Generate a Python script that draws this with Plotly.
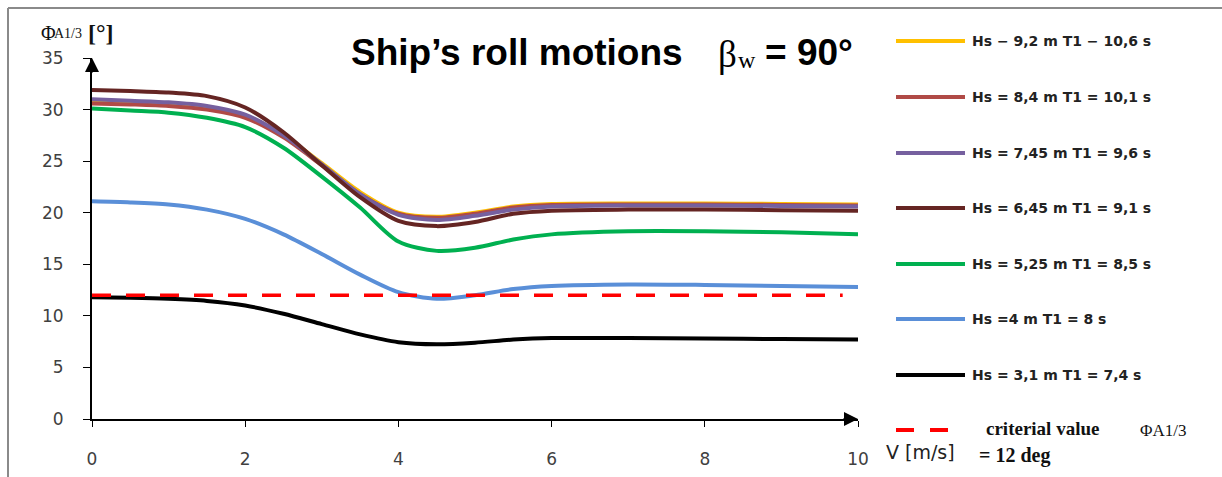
import plotly.graph_objects as go

# ---------------- data ----------------
speed = [0, 0.5, 1, 1.5, 2, 2.5, 3, 3.5, 4, 4.5, 5, 5.5, 6, 7, 8, 9, 10]

hs92 = [30.9, 30.75, 30.6, 30.25, 29.4, 27.5, 24.8, 22.0, 20.0, 19.6, 20.0, 20.6, 20.85, 20.9, 20.9, 20.85, 20.8]
hs84 = [30.6, 30.5, 30.35, 30.0, 29.2, 27.3, 24.6, 21.8, 19.9, 19.5, 19.9, 20.5, 20.75, 20.8, 20.8, 20.75, 20.7]
hs745 = [31.0, 30.85, 30.7, 30.35, 29.5, 27.5, 24.7, 21.8, 19.8, 19.3, 19.7, 20.3, 20.6, 20.7, 20.7, 20.65, 20.6]
hs645 = [31.9, 31.8, 31.65, 31.3, 30.2, 27.8, 24.6, 21.5, 19.2, 18.7, 19.1, 19.9, 20.2, 20.3, 20.3, 20.25, 20.2]
hs525 = [30.1, 29.9, 29.7, 29.2, 28.3, 26.3, 23.5, 20.5, 17.2, 16.3, 16.6, 17.4, 17.9, 18.2, 18.2, 18.1, 17.9]
hs4 = [21.1, 21.0, 20.8, 20.3, 19.4, 17.9, 16.0, 14.0, 12.3, 11.65, 12.0, 12.6, 12.9, 13.05, 13.0, 12.9, 12.8]
hs31 = [11.8, 11.75, 11.65, 11.45, 11.0, 10.2, 9.2, 8.2, 7.45, 7.25, 7.4, 7.7, 7.85, 7.85, 7.8, 7.75, 7.7]

crit_x = [0, 9.8]
crit_y = [12, 12]

series_names = [
    "Hs − 9,2 m T1 − 10,6 s",
    "Hs = 8,4 m T1 = 10,1 s",
    "Hs = 7,45 m T1 = 9,6 s",
    "Hs = 6,45 m T1 = 9,1 s",
    "Hs = 5,25 m T1 = 8,5 s",
    "Hs =4 m T1 = 8 s",
    "Hs = 3,1 m T1 = 7,4 s",
]
series_values = [hs92, hs84, hs745, hs645, hs525, hs4, hs31]
series_colors = ["#FFC000", "#B04A46", "#76609F", "#652523", "#00B050", "#5A8FD8", "#000000"]

x_ticks = [0, 2, 4, 6, 8, 10]
y_ticks = [0, 5, 10, 15, 20, 25, 30, 35]

# ---------------- geometry helpers ----------------
W, H = 1222, 477
L, R_EDGE, T, B_EDGE = 92, 858, 58, 419
PW, PH = R_EDGE - L, B_EDGE - T


def px(X):
    return (X - L) / PW


def py(Y):
    return (B_EDGE - Y) / PH


fig = go.Figure()

for name, vals, col in zip(series_names, series_values, series_colors):
    fig.add_trace(go.Scatter(x=speed, y=vals, mode="lines", name=name,
                             line=dict(color=col, width=4, shape="spline", smoothing=0.8),
                             showlegend=False))

fig.add_trace(go.Scatter(x=crit_x, y=crit_y, mode="lines", name="criterial value",
                         line=dict(color="#FF0000", width=3.5, dash="19px,15px"),
                         showlegend=False))

shapes = []
annotations = []

# custom legend
leg_y = [41, 97, 153, 208, 264, 319, 375]
for name, col, yy in zip(series_names, series_colors, leg_y):
    shapes.append(dict(type="line", xref="paper", yref="paper",
                       x0=px(896), x1=px(965), y0=py(yy), y1=py(yy),
                       line=dict(color=col, width=4)))
    annotations.append(dict(xref="paper", yref="paper", x=px(970), y=py(yy),
                            xanchor="left", yanchor="middle", showarrow=False,
                            text="<b>" + name + "</b>",
                            font=dict(family="DejaVu Sans", size=14, color="#222")))

# criterion legend
shapes.append(dict(type="line", xref="paper", yref="paper",
                   x0=px(896), x1=px(950), y0=py(430), y1=py(430),
                   line=dict(color="#FF0000", width=4, dash="18px,16px")))
annotations.append(dict(xref="paper", yref="paper", x=px(984), y=py(428),
                        xanchor="left", yanchor="middle", showarrow=False,
                        text="<b>criterial value</b>",
                        font=dict(family="Liberation Serif", size=19, color="#111")))
annotations.append(dict(xref="paper", yref="paper", x=px(1138), y=py(430),
                        xanchor="left", yanchor="middle", showarrow=False,
                        text="ΦA1/3",
                        font=dict(family="Liberation Serif", size=17, color="#111")))
annotations.append(dict(xref="paper", yref="paper", x=px(977), y=py(455),
                        xanchor="left", yanchor="middle", showarrow=False,
                        text="<b>= 12 deg</b>",
                        font=dict(family="Liberation Serif", size=20, color="#111")))

# x-axis title
annotations.append(dict(xref="paper", yref="paper", x=px(884), y=py(452),
                        xanchor="left", yanchor="middle", showarrow=False,
                        text="V [m/s]",
                        font=dict(family="DejaVu Sans", size=19, color="#222")))

# y-axis title
annotations.append(dict(xref="paper", yref="paper", x=px(39), y=py(33),
                        xanchor="left", yanchor="middle", showarrow=False,
                        text="Φ", font=dict(family="Liberation Serif", size=20, color="#111")))
annotations.append(dict(xref="paper", yref="paper", x=px(52), y=py(34),
                        xanchor="left", yanchor="middle", showarrow=False,
                        text="A1/3", font=dict(family="Liberation Serif", size=14, color="#111")))
annotations.append(dict(xref="paper", yref="paper", x=px(86), y=py(33),
                        xanchor="left", yanchor="middle", showarrow=False,
                        text="<b>[°]</b>", font=dict(family="Liberation Serif", size=24, color="#111")))

# title
annotations.append(dict(xref="paper", yref="paper", x=px(349), y=py(53),
                        xanchor="left", yanchor="middle", showarrow=False,
                        text="<b>Ship’s roll motions</b>",
                        font=dict(family="Liberation Sans", size=37, color="#000")))
annotations.append(dict(xref="paper", yref="paper", x=px(716), y=py(54),
                        xanchor="left", yanchor="middle", showarrow=False,
                        text="β", font=dict(family="Liberation Serif", size=37, color="#000")))
annotations.append(dict(xref="paper", yref="paper", x=px(736), y=py(60),
                        xanchor="left", yanchor="middle", showarrow=False,
                        text="w", font=dict(family="Liberation Serif", size=24, color="#000")))
annotations.append(dict(xref="paper", yref="paper", x=px(763), y=py(53),
                        xanchor="left", yanchor="middle", showarrow=False,
                        text="<b>= 90°</b>",
                        font=dict(family="Liberation Sans", size=37, color="#000")))

# axis arrows
annotations.append(dict(x=10, y=0, xref="x", yref="y", ax=-16, ay=0, text="",
                        showarrow=True, arrowhead=2, arrowsize=1.4, arrowwidth=2, arrowcolor="#000"))
annotations.append(dict(x=0, y=35, xref="x", yref="y", ax=0, ay=16, text="",
                        showarrow=True, arrowhead=2, arrowsize=1.4, arrowwidth=2, arrowcolor="#000"))

# outer border (top and left)
shapes.append(dict(type="line", xref="paper", yref="paper",
                   x0=px(8), x1=px(1230), y0=py(8), y1=py(8),
                   line=dict(color="#8a8a8a", width=2)))
shapes.append(dict(type="line", xref="paper", yref="paper",
                   x0=px(8), x1=px(8), y0=py(8), y1=py(490),
                   line=dict(color="#8a8a8a", width=2)))

fig.update_layout(
    width=W, height=H,
    margin=dict(l=L, r=W - R_EDGE, t=T, b=H - B_EDGE, pad=0, autoexpand=False),
    paper_bgcolor="white", plot_bgcolor="white",
    shapes=shapes, annotations=annotations,
    showlegend=False,
    xaxis=dict(range=[0, 10], tickvals=x_ticks, showgrid=False, zeroline=False,
               automargin=False,
               showline=True, linecolor="#000", linewidth=2,
               ticks="outside", ticklen=6, tickwidth=1, tickcolor="#000",
               ticklabelstandoff=18,
               tickfont=dict(family="DejaVu Sans", size=17, color="#404040")),
    yaxis=dict(range=[0, 35], tickvals=y_ticks, showgrid=False, zeroline=False,
               automargin=False,
               showline=True, linecolor="#000", linewidth=2,
               ticks="outside", ticklen=7, tickwidth=1, tickcolor="#000",
               ticklabelstandoff=16,
               tickfont=dict(family="DejaVu Sans", size=17, color="#404040")),
)

fig.write_html("out.html", config={"displayModeBar": False},
               post_script="document.body.style.margin='0px';document.body.style.overflow='hidden';")
